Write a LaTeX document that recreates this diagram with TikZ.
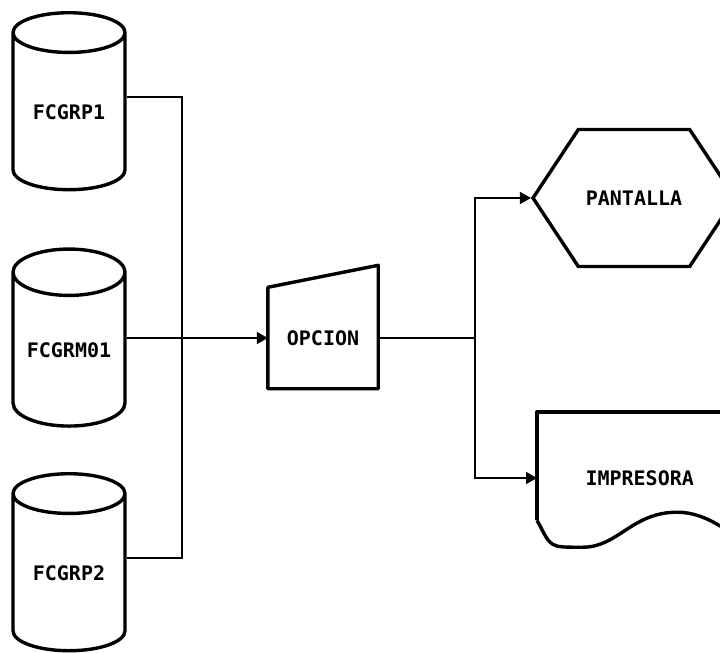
\documentclass[tikz,border=0pt]{standalone}
\usepackage{fontspec}
\setmonofont{DejaVu Sans Mono}
\usepackage{tikz}
\usetikzlibrary{positioning,arrows.meta,shapes.geometric,shapes.symbols}
\tikzset{every node/.style={font=\fontsize{20}{22}\ttfamily\bfseries}}

\begin{document}
\begin{tikzpicture}[
    x=1pt, y=-1pt,
    >={Triangle[length=11pt,width=12pt]},
    line/.style={line width=1.6pt},
    store/.style={cylinder, shape border rotate=90, draw, line width=3.4pt,
        aspect=0.55, minimum width=112pt, minimum height=177pt, inner sep=0pt},
    manual/.style={rectangle, minimum width=110pt, minimum height=101pt, inner sep=0pt},
    display/.style={signal, signal to=west and east, signal pointer angle=113,
        draw, line width=3.4pt, minimum width=202pt, minimum height=137pt, inner sep=0pt},
    printer/.style={rectangle, minimum width=205pt, minimum height=132pt, inner sep=0pt},
    outline/.style={line width=3.4pt, line join=round}
]
\useasboundingbox (0,0) rectangle (720,653);
\clip (0,0) rectangle (720,653);

% files
\node (fcgrp1) [store] at (69,112) {FCGRP1};
\node (fcgrm01) [store] at (69,350) {FCGRM01};
\node (fcgrp2) [store] at (69,573) {FCGRP2};

% option
\node (opcion) [manual] at (323,338) {OPCION};
\draw[outline] (opcion.north west) -- ([yshift=22pt]opcion.north east)
    -- (opcion.south east) -- (opcion.south west) -- cycle;

% outputs
\node (pantalla) [display] at (634,198) {PANTALLA};

\node (impresora) [printer, anchor=west] at (537,478) {IMPRESORA};
\draw[outline] ([yshift=24pt]impresora.south west) -- (impresora.north west)
    -- (impresora.north east);
\draw[outline] ([yshift=24pt]impresora.south west)
    .. controls ++(15,28) and ++(-35,0) .. ++(46,27)
    .. controls ++(35,0) and ++(-45,0) .. ++(94,-35)
    .. controls ++(30,0) and ++(-20,-10) .. ++(70,30);

% connectors
\coordinate (join) at (182,338);
\coordinate (split) at (475,338);

\draw[line] ([yshift=15pt]fcgrp1.east) -| (join);
\draw[line] ([yshift=15pt]fcgrp2.east) -| (join);
\draw[line,->] ([yshift=12pt]fcgrm01.east) -- (opcion.west);

\draw[line] (opcion.east) -- (split);
\draw[line,->] (split) |- (pantalla.west);
\draw[line,->] (split) |- (impresora.west);

\end{tikzpicture}
\end{document}
